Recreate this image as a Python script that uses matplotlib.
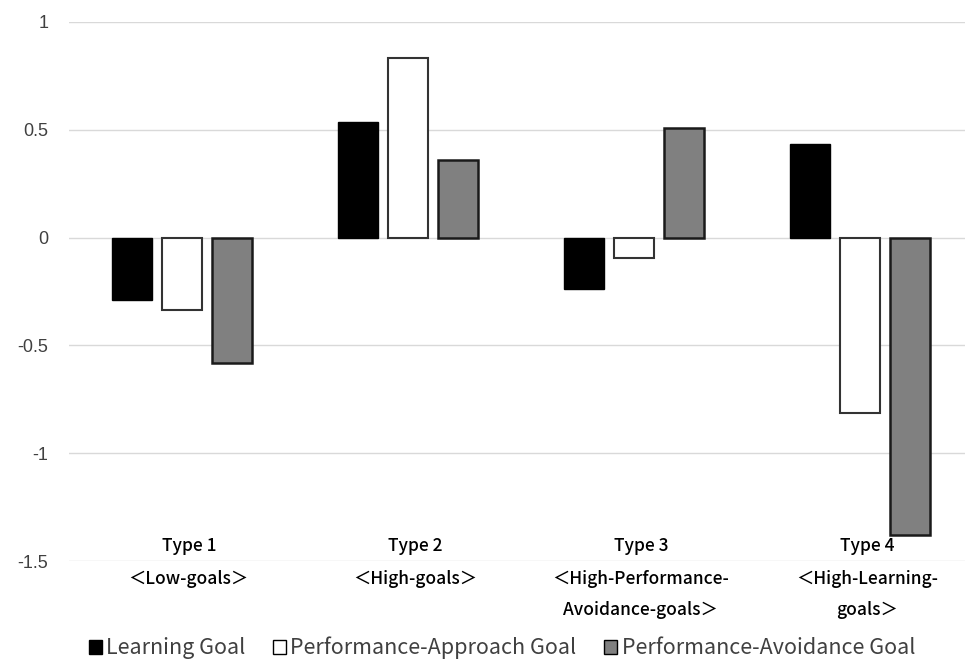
import matplotlib
matplotlib.use("Agg")
import matplotlib.pyplot as plt
from matplotlib.patches import Patch
import numpy as np

plt.rcParams['font.family'] = ['Noto Sans CJK JP', 'DejaVu Sans']

# data
types = ["Type 1", "Type 2", "Type 3", "Type 4"]
subtitles = ["＜Low-goals＞", "＜High-goals＞",
             "＜High-Performance-\nAvoidance-goals＞", "＜High-Learning-\ngoals＞"]
learning = [-0.29, 0.536, -0.24, 0.434]
approach = [-0.335, 0.833, -0.094, -0.814]
avoidance = [-0.58, 0.36, 0.508, -1.38]
series_names = ["Learning Goal", "Performance-Approach Goal", "Performance-Avoidance Goal"]
yticks = [1, 0.5, 0, -0.5, -1, -1.5]

fig = plt.figure(figsize=(9.65, 6.62), dpi=100)
ax = fig.add_axes([69 / 965, 1 - 561 / 662, 1 - 69 / 965, (561 - 22) / 662])

x = np.arange(len(types))
w = 0.177
step = 0.221
ax.bar(x - step, learning, w, color="black", edgecolor="black", linewidth=1, zorder=3)
ax.bar(x, approach, w, color="white", edgecolor="#333333", linewidth=1.5, zorder=3)
ax.bar(x + step, avoidance, w, color="#808080", edgecolor="#1a1a1a", linewidth=1.8, zorder=3)

ax.set_ylim(-1.5, 1)
ax.set_xlim(-0.5, 3.5 - 8 / 226)
ax.set_yticks(yticks)
ax.set_yticklabels([f"{t:g}" for t in yticks], family="Liberation Sans")
ax.tick_params(axis="y", length=0, pad=15, labelsize=13, labelcolor="#404040")
ax.set_xticks([])
ax.grid(axis="y", color="#d9d9d9", linewidth=1, zorder=0)
for s in ax.spines.values():
    s.set_visible(False)

trans = ax.get_xaxis_transform()
for i, (t, sub) in enumerate(zip(types, subtitles)):
    ax.text(x[i] + 0.03, 0.027, t, transform=trans, ha="center", va="center",
            fontsize=12.5, color="black", fontweight="medium")
    ax.text(x[i] + 0.03, -0.017, sub, transform=trans, ha="center", va="top",
            fontsize=12.5, color="black", linespacing=1.95, fontweight="medium")

handles = [Patch(facecolor="black", edgecolor="black"),
           Patch(facecolor="white", edgecolor="black"),
           Patch(facecolor="#808080", edgecolor="black")]
fig.legend(handles, series_names, loc="center", bbox_to_anchor=(0.52, 1 - 648 / 662),
           ncol=3, frameon=False, fontsize=15.5, labelcolor="#404040",
           handlelength=0.6, handleheight=0.6, handletextpad=0.2, columnspacing=1.3)

fig.savefig("out.png", dpi=100)
